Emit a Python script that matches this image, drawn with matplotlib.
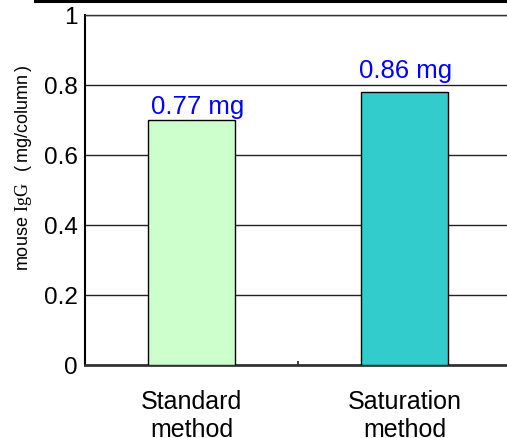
import matplotlib
matplotlib.use("Agg")
import matplotlib.pyplot as plt
from matplotlib.lines import Line2D
from matplotlib.transforms import IdentityTransform

# Data
categories = ["Standard\nmethod", "Saturation\nmethod"]
bar_values = [0.70, 0.78]          # plotted column heights (mg/column)
label_values = [0.77, 0.86]        # binding capacity printed above each column
bar_colors = ["#CCFFCC", "#33CCCC"]
y_ticks = [0, 0.2, 0.4, 0.6, 0.8, 1.0]
y_tick_labels = ["0", "0.2", "0.4", "0.6", "0.8", "1"]

SANS = ["Liberation Sans", "DejaVu Sans"]
plt.rcParams["font.family"] = SANS
plt.rcParams["mathtext.fontset"] = "custom"
plt.rcParams["mathtext.rm"] = "Liberation Serif"
plt.rcParams["mathtext.sf"] = "Liberation Sans"

W, H, DPI = 507, 439, 100
fig = plt.figure(figsize=(W / DPI, H / DPI), dpi=DPI)
ax = fig.add_axes([85 / W, 73 / H, 426 / W, 350 / H])

x = list(range(len(categories)))
ax.bar(x, bar_values, width=0.41, color=bar_colors, edgecolor="black",
       linewidth=1.0, zorder=3)

ax.set_xlim(-0.5, 1.5)
ax.set_ylim(0, 1)

# y axis
ax.set_yticks(y_ticks)
ax.set_yticklabels(y_tick_labels, fontsize=17.5)
ax.tick_params(axis="y", length=0, pad=5)
ax.yaxis.grid(True, color="#222222", linewidth=1.0)
ax.set_axisbelow(True)

# x axis: category labels plus a small divider tick between groups
ax.set_xticks(x)
ax.set_xticklabels(categories, fontsize=18, linespacing=1.2)
ax.tick_params(axis="x", which="major", length=0, pad=17.5)
ax.set_xticks([0.5], minor=True)
ax.tick_params(axis="x", which="minor", direction="in", length=3, width=1.3,
               color="#333333")

ax.spines["right"].set_visible(False)
ax.spines["top"].set_linewidth(1.0)
ax.spines["top"].set_color("#333333")
ax.spines["left"].set_linewidth(1.5)
ax.spines["left"].set_color("black")
ax.spines["bottom"].set_linewidth(2.0)
ax.spines["bottom"].set_color("#333333")

# value labels above the columns
label_dx = [6, 1]
label_dy = [7, 15]
for xi, h, v, dx, dy in zip(x, bar_values, label_values, label_dx, label_dy):
    ax.annotate(f"{v:.2f} mg", xy=(xi, h), xytext=(dx, dy),
                textcoords="offset pixels", ha="center", va="baseline",
                fontsize=18.5, color="#0000FF", zorder=4)

# rotated y-axis title, with "IgG" set in a serif face
ylabel = (r"$\mathsf{mouse}\ \mathrm{IgG}\ \ \mathsf{(}\,\mathsf{mg/column}"
          r"\,\mathsf{)}$")
fig.text(28, 168, ylabel, transform=IdentityTransform(), rotation=90,
         rotation_mode="anchor", ha="left", va="baseline", fontsize=13)

# frame edge running along the top
fig.add_artist(Line2D([35, 35, W], [H, H - 1.5, H - 1.5],
                      transform=IdentityTransform(), color="black",
                      linewidth=2.2, solid_joinstyle="miter"))

fig.savefig("out.png", dpi=DPI)
